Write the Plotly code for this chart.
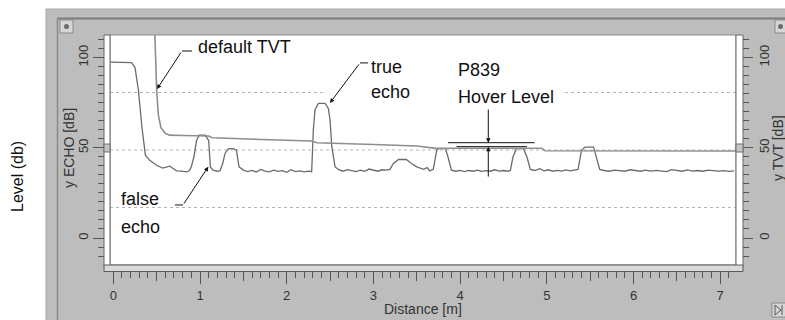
import plotly.graph_objects as go

# ---------------- data ----------------
ECHO_DISTANCE_M = [
    -0.03, 0.10, 0.21, 0.25, 0.29, 0.33, 0.37, 0.42, 0.46, 0.50, 0.57, 0.62, 0.65, 0.69, 0.73,
    0.79, 0.85, 0.88, 0.90, 0.93, 0.96, 0.99, 1.06, 1.10, 1.12, 1.15, 1.20, 1.23, 1.26, 1.29,
    1.33, 1.38, 1.42, 1.45, 1.50, 1.55, 1.60, 1.65, 1.70, 1.75, 1.80, 1.85, 1.90, 1.95, 2.00,
    2.05, 2.10, 2.15, 2.20, 2.25, 2.288, 2.307, 2.326, 2.365, 2.442, 2.48, 2.50, 2.52, 2.557,
    2.595, 2.65, 2.70, 2.75, 2.80, 2.85, 2.90, 2.95, 3.00, 3.05, 3.10, 3.15, 3.19, 3.23, 3.29,
    3.38, 3.44, 3.50, 3.58, 3.62, 3.65, 3.69, 3.73, 3.75, 3.83, 3.86, 3.90, 3.95, 4.00, 4.05,
    4.10, 4.15, 4.20, 4.25, 4.30, 4.35, 4.40, 4.45, 4.50, 4.55, 4.58, 4.61, 4.65, 4.73, 4.77,
    4.81, 4.86, 4.92, 4.97, 5.02, 5.07, 5.12, 5.17, 5.22, 5.27, 5.32, 5.36, 5.40, 5.44, 5.54,
    5.57, 5.61, 5.66, 5.72, 5.78, 5.84, 5.90, 5.96, 6.02, 6.08, 6.14, 6.20, 6.26, 6.32, 6.38,
    6.44, 6.50, 6.56, 6.62, 6.68, 6.74, 6.80, 6.86, 6.92, 6.98, 7.04, 7.10, 7.16,
]
ECHO_DB = [
    97.4, 97.4, 97.2, 94.6, 81.8, 61.5, 45.9, 43.0, 41.5, 40.3, 38.7, 39.3, 39.8, 38.5, 37.2,
    37.0, 36.6, 37.5, 39.4, 45.0, 54.0, 57.0, 57.0, 54.0, 39.4, 37.6, 37.0, 37.2, 41.0, 47.0,
    49.5, 49.5, 48.6, 39.4, 37.6, 36.8, 37.4, 36.5, 38.0, 37.0, 36.6, 37.6, 36.9, 37.3, 36.4,
    37.8, 36.8, 37.2, 36.6, 37.0, 36.7, 59.8, 70.9, 74.6, 74.6, 71.8, 65.4, 50.6, 39.5,
    38.0, 37.0, 37.9, 37.2, 36.8, 37.6, 36.9, 38.2, 37.4, 37.0, 37.8, 37.6, 38.0, 41.3, 43.5,
    43.5, 41.3, 39.4, 38.0, 39.0, 37.2, 38.0, 48.6, 49.5, 49.5, 45.0, 37.6, 37.0, 37.5, 36.8,
    37.4, 37.0, 37.6, 36.9, 37.3, 37.0, 37.8, 37.1, 37.4, 37.0, 37.4, 45.0, 49.5, 49.5, 45.0,
    38.0, 37.4, 38.4, 37.2, 37.8, 37.0, 37.5, 37.1, 37.7, 37.2, 37.5, 38.0, 48.6, 50.4, 50.4,
    45.0, 38.0, 37.4, 37.0, 37.6, 37.2, 37.0, 37.8, 37.3, 37.0, 37.6, 37.1, 37.5, 37.0, 36.8,
    37.9, 37.3, 37.0, 37.7, 37.1, 37.4, 37.0, 37.6, 37.2, 37.0, 37.3, 36.9, 37.2,
]
TVT_DISTANCE_M = [
    -0.03, 0.47, 0.48, 0.50, 0.52, 0.55, 0.60, 0.65, 0.80, 1.00, 1.10, 1.14, 1.50, 2.00, 2.28,
    2.35, 2.60, 3.00, 3.50, 3.70, 4.50, 4.94, 4.98, 7.18,
]
TVT_DB = [
    125.0, 125.0, 112.0, 82.0, 68.0, 61.0, 58.0, 57.0, 56.8, 56.8, 56.5, 55.5, 55.0, 54.2, 53.7,
    52.8, 52.3, 51.8, 51.0, 49.8, 49.7, 49.7, 48.3, 48.2,
]
X_TICKS = [0, 1, 2, 3, 4, 5, 6, 7]
X_TICK_LABELS = ["0", "1", "2", "3", "4", "5", "6", "7"]
X_HALF_TICKS = [0.5, 1.5, 2.5, 3.5, 4.5, 5.5, 6.5]
Y_TICKS = [0, 50, 100]
Y_TICK_LABELS = ["0", "50", "100"]
X_RANGE = [-0.038, 7.182]
Y_RANGE = [-14.96, 112.47]
HOVER_LEVEL_LINES_DB = [52.8, 50.6]
HOVER_LEVEL_LINES_X = [[3.86, 4.86], [3.96, 4.77]]
HOVER_ARROW_X = 4.325

# ---------------- geometry helpers (pixel -> paper) ----------------
W, H = 785, 320
PL, PR, PT, PB = 110, 736, 35, 265


def fx(p):
    return (p - PL) / (PR - PL)


def fy(p):
    return (PB - p) / (PB - PT)


GRAY = "#bdbdbd"
TICKC = "#555555"
LABEL_FONT = dict(family="Liberation Sans, Arial, sans-serif", size=13, color="#333333")
NOTE_FONT = dict(family="Liberation Sans, Arial, sans-serif", size=18, color="#111111")

fig = go.Figure()
fig.add_trace(go.Scatter(x=ECHO_DISTANCE_M, y=ECHO_DB, mode="lines", name="echo",
                         line=dict(color="#6b6b6b", width=1.3), xaxis="x", yaxis="y",
                         hoverinfo="skip", showlegend=False))
fig.add_trace(go.Scatter(x=TVT_DISTANCE_M, y=TVT_DB, mode="lines", name="TVT",
                         line=dict(color="#8e8e8e", width=1.6), xaxis="x2", yaxis="y2",
                         hoverinfo="skip", showlegend=False))

shapes = []
# panel background and frame
shapes.append(dict(type="rect", xref="paper", yref="paper", x0=fx(46), x1=fx(786), y0=fy(321), y1=fy(9),
                   fillcolor=GRAY, line=dict(color="#a9a9a9", width=1), layer="below"))
shapes.append(dict(type="line", xref="paper", yref="paper", x0=fx(57), x1=fx(786), y0=fy(18.5), y1=fy(18.5),
                   line=dict(color="#7d7d7d", width=2), layer="below"))
shapes.append(dict(type="line", xref="paper", yref="paper", x0=fx(57.5), x1=fx(57.5), y0=fy(18), y1=fy(321),
                   line=dict(color="#8a8a8a", width=1.5), layer="below"))
# plot area
shapes.append(dict(type="rect", xref="paper", yref="paper", x0=0, x1=1, y0=0, y1=1,
                   fillcolor="white", line=dict(color="#8c8c8c", width=1), layer="below"))
# dotted grid lines at quarters of the plot height
for gy, segs in [(0.25, [(0, 1)]), (0.5, [(0, 1)]), (0.75, [(0, fx(323)), (fx(565), 1)])]:
    for a, b in segs:
        shapes.append(dict(type="line", xref="paper", yref="paper", x0=a, x1=b, y0=gy, y1=gy,
                           line=dict(color="#b5b5b5", width=1, dash="dot"), layer="below"))
# side strips and bottom band (drawn above to trim tick bases)
for x0, x1 in [(104, 110), (736, 743)]:
    shapes.append(dict(type="rect", xref="paper", yref="paper", x0=fx(x0), x1=fx(x1), y0=fy(266), y1=fy(35),
                       fillcolor="white", line=dict(color="#666666", width=1), layer="above"))
    shapes.append(dict(type="rect", xref="paper", yref="paper", x0=fx(x0), x1=fx(x1), y0=fy(152), y1=fy(144),
                       fillcolor="#c4c4c4", line=dict(color="#707070", width=1), layer="above"))
shapes.append(dict(type="rect", xref="paper", yref="paper", x0=fx(104), x1=fx(743), y0=fy(271.5), y1=fy(265),
                   fillcolor="#dadada", line=dict(color="#5a5a5a", width=1), layer="above"))
# small window icons
for x0, x1, y0, y1 in [(60, 73, 20, 33), (775, 786, 20, 33), (772, 786, 303, 317)]:
    shapes.append(dict(type="rect", xref="paper", yref="paper", x0=fx(x0), x1=fx(x1), y0=fy(y1), y1=fy(y0),
                       fillcolor="#d6d6d6", line=dict(color="#8a8a8a", width=1), layer="above"))
shapes.append(dict(type="circle", xref="paper", yref="paper", x0=fx(64), x1=fx(69), y0=fy(29), y1=fy(24),
                   fillcolor="#6a6a6a", line=dict(width=0), layer="above"))
shapes.append(dict(type="circle", xref="paper", yref="paper", x0=fx(778), x1=fx(783), y0=fy(29), y1=fy(24),
                   fillcolor="#6a6a6a", line=dict(width=0), layer="above"))
shapes.append(dict(type="path", xref="paper", yref="paper",
                   path=f"M {fx(775)} {fy(305)} L {fx(781)} {fy(310)} L {fx(775)} {fy(315)} Z M {fx(782)} {fy(305)} L {fx(782)} {fy(315)}",
                   fillcolor="rgba(0,0,0,0)", line=dict(color="#555555", width=1), layer="above"))

# annotation leader tails and hover-level lines (data coordinates)
for (xa, xb), yv in zip(HOVER_LEVEL_LINES_X, HOVER_LEVEL_LINES_DB):
    shapes.append(dict(type="line", xref="x", yref="y", x0=xa, x1=xb, y0=yv, y1=yv,
                       line=dict(color="#111111", width=1), layer="above"))
for xa, xb, yv in [(0.792, 0.908, 103.6), (2.845, 2.938, 97.0), (0.712, 0.804, 18.3)]:
    shapes.append(dict(type="line", xref="x", yref="y", x0=xa, x1=xb, y0=yv, y1=yv,
                       line=dict(color="#111111", width=1), layer="above"))

annotations = []
# arrows
for tip, tail in [((0.504, 82.5), (0.792, 103.6)), ((2.499, 74.8), (2.845, 97.0)),
                  ((1.096, 39.5), (0.804, 18.3)),
                  ((HOVER_ARROW_X, HOVER_LEVEL_LINES_DB[0]), (HOVER_ARROW_X, 72.0)),
                  ((HOVER_ARROW_X, HOVER_LEVEL_LINES_DB[1]), (HOVER_ARROW_X, 33.2))]:
    annotations.append(dict(x=tip[0], y=tip[1], ax=tail[0], ay=tail[1], xref="x", yref="y",
                            axref="x", ayref="y", text="", showarrow=True, arrowhead=2,
                            arrowsize=0.9, arrowwidth=1, arrowcolor="#111111", standoff=0,
                            startstandoff=0))
# note texts
for txt, xv, yv in [("default TVT", 0.95, 105.8), ("true", 2.95, 94.7), ("echo", 2.95, 80.9),
                    ("P839", 3.95, 93.1), ("Hover Level", 3.95, 78.1),
                    ("false", 0.065, 21.6), ("echo", 0.065, 6.1)]:
    annotations.append(dict(x=xv, y=yv, xref="x", yref="y", text=txt, showarrow=False,
                            xanchor="left", yanchor="middle", font=NOTE_FONT))
# axis titles and outer label
annotations.append(dict(x=fx(69), y=fy(148), xref="paper", yref="paper", text="y ECHO [dB]",
                        showarrow=False, textangle=-90, font=dict(LABEL_FONT, size=14),
                        xanchor="center", yanchor="middle"))
annotations.append(dict(x=fx(778), y=fy(148), xref="paper", yref="paper", text="y TVT [dB]",
                        showarrow=False, textangle=-90, font=dict(LABEL_FONT, size=14),
                        xanchor="center", yanchor="middle"))
annotations.append(dict(x=fx(423), y=fy(309), xref="paper", yref="paper", text="Distance [m]",
                        showarrow=False, font=dict(LABEL_FONT, size=14),
                        xanchor="center", yanchor="middle"))
annotations.append(dict(x=fx(17), y=fy(177), xref="paper", yref="paper", text="Level (db)",
                        showarrow=False, textangle=-90,
                        font=dict(family="Liberation Sans, Arial, sans-serif", size=16, color="#111111"),
                        xanchor="center", yanchor="middle"))

common_x = dict(range=X_RANGE, showgrid=False, zeroline=False, showline=False, ticks="outside",
                tickcolor=TICKC, tickwidth=1, fixedrange=True)
common_y = dict(range=Y_RANGE, showgrid=False, zeroline=False, showline=False, ticks="outside",
                tickcolor=TICKC, tickwidth=1, tickmode="array", tickvals=Y_TICKS,
                ticktext=Y_TICK_LABELS, tickangle=-90, tickfont=LABEL_FONT, fixedrange=True)

fig.update_layout(
    width=W, height=H, autosize=False,
    margin=dict(l=PL, r=W - PR, t=PT, b=H - PB, pad=0),
    paper_bgcolor="white", plot_bgcolor="rgba(0,0,0,0)",
    showlegend=False,
    xaxis=dict(common_x, tickmode="array", tickvals=X_TICKS, ticktext=X_TICK_LABELS, ticklen=18,
               tickfont=LABEL_FONT,
               minor=dict(tickmode="linear", tick0=0, dtick=0.1, ticks="outside", ticklen=12,
                          tickcolor=TICKC, tickwidth=1, showgrid=False)),
    xaxis2=dict(common_x, overlaying="x", anchor="y2", side="bottom", tickmode="array",
                tickvals=X_HALF_TICKS, ticklen=15, showticklabels=False),
    yaxis=dict(common_y, side="left", ticklen=16,
               minor=dict(tickmode="linear", tick0=0, dtick=5, ticks="outside", ticklen=11,
                          tickcolor=TICKC, tickwidth=1, showgrid=False)),
    yaxis2=dict(common_y, overlaying="y", anchor="x2", side="right", ticklen=16,
                minor=dict(tickmode="linear", tick0=0, dtick=5, ticks="outside", ticklen=12,
                           tickcolor=TICKC, tickwidth=1, showgrid=False)),
    shapes=shapes,
    annotations=annotations,
)

fig.write_html(
    "out.html",
    config={"displayModeBar": False, "staticPlot": True},
    post_script="document.body.style.margin='0';document.body.style.overflow='hidden';",
)
